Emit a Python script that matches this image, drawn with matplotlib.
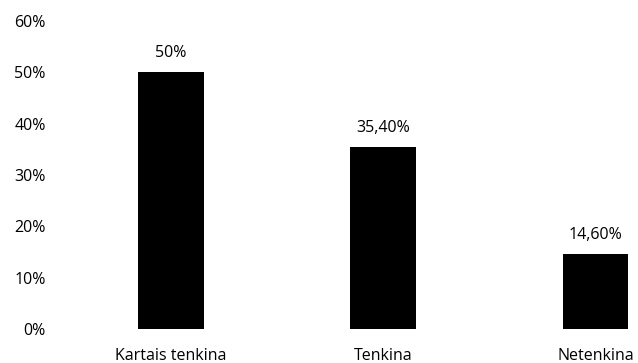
import matplotlib.pyplot as plt
from matplotlib.ticker import PercentFormatter

categories = ['Kartais tenkina', 'Tenkina', 'Netenkina']
values = [50.0, 35.4, 14.6]
value_labels = ['50%', '35,40%', '14,60%']

plt.rcParams['font.family'] = ['Open Sans', 'DejaVu Sans']

fig = plt.figure(figsize=(6.38, 3.63), dpi=100)
ax = fig.add_axes([65 / 638, 34 / 363, 573 / 638, 308 / 363])

x = range(len(categories))
bars = ax.bar(x, values, width=0.31, color='black')

for b, lab in zip(bars, value_labels):
    ax.annotate(lab, (b.get_x() + b.get_width() / 2, b.get_height()),
                xytext=(0, 8), textcoords='offset points',
                ha='center', va='bottom', fontsize=11.5, color='black')

ax.set_xlim(-0.5, 2.2)
ax.set_ylim(0, 60)
ax.set_yticks(range(0, 61, 10))
ax.yaxis.set_major_formatter(PercentFormatter(decimals=0))
ax.set_xticks(list(x))
ax.set_xticklabels(categories)
ax.tick_params(axis='both', length=0, labelsize=11.5, colors='black')
ax.tick_params(axis='y', pad=14)
ax.tick_params(axis='x', pad=14)
for s in ax.spines.values():
    s.set_visible(False)

fig.savefig('out.png', dpi=100)
